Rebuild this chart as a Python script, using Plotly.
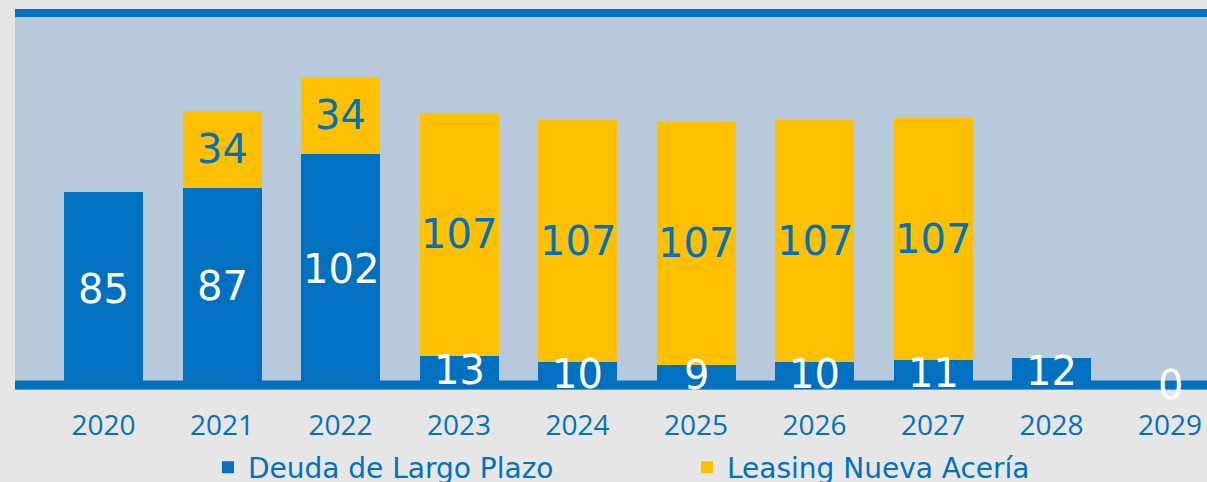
import plotly.graph_objects as go

years = ["2020", "2021", "2022", "2023", "2024", "2025", "2026", "2027", "2028", "2029"]
deuda_lp = [85, 87, 102, 13, 10, 9, 10, 11, 12, 0]
leasing = [0, 34, 34, 107, 107, 107, 107, 107, 0, 0]

BLUE = "#0070c0"
YELLOW = "#ffc000"

fig = go.Figure()
fig.add_trace(go.Bar(x=years, y=deuda_lp, name="Deuda de Largo Plazo",
                     marker=dict(color=BLUE, line=dict(width=0)), width=0.667))
fig.add_trace(go.Bar(x=years, y=leasing, name="Leasing Nueva Acería",
                     marker=dict(color=YELLOW, line=dict(width=0)), width=0.667))

label_font = "DejaVu Sans"
for i, yr in enumerate(years):
    d = deuda_lp[i]
    l = leasing[i]
    fig.add_annotation(x=i, y=d / 2, text=str(d), showarrow=False,
                       font=dict(family=label_font, size=40, color="white"))
    if l > 0:
        fig.add_annotation(x=i, y=d + l / 2, text=str(l), showarrow=False,
                           font=dict(family=label_font, size=40, color=BLUE))

# baseline and top rule
fig.add_shape(type="line", xref="paper", x0=0, x1=1, yref="y", y0=0, y1=0,
              line=dict(color=BLUE, width=9), layer="above")
fig.add_shape(type="rect", xref="paper", x0=0, x1=1, yref="paper",
              ysizemode="pixel", yanchor=1, y0=0, y1=-8,
              fillcolor=BLUE, line=dict(width=0), layer="above")

fig.update_layout(
    barmode="stack",
    width=1207, height=482,
    margin=dict(l=15, r=0, t=9, b=92),
    paper_bgcolor="#e6e6e6",
    plot_bgcolor="#b8c9db",
    xaxis=dict(type="category", range=[-0.747, 9.312], showgrid=False, zeroline=False,
               showline=False, ticks="", ticklabelstandoff=16,
               tickfont=dict(family="Open Sans", size=28, color=BLUE)),
    yaxis=dict(range=[-2.2, 166.0], visible=False, showgrid=False, zeroline=False),
    legend=dict(orientation="h", xref="container", yref="container",
                x=0.1723, y=0.03, xanchor="left", yanchor="middle",
                traceorder="normal",
                bgcolor="rgba(0,0,0,0)",
                entrywidth=434, entrywidthmode="pixels",
                font=dict(family="DejaVu Sans", size=28, color=BLUE)),
    showlegend=True,
)

fig.write_html("out.html", config={"displayModeBar": False},
               post_script="document.body.style.margin='0px';")
